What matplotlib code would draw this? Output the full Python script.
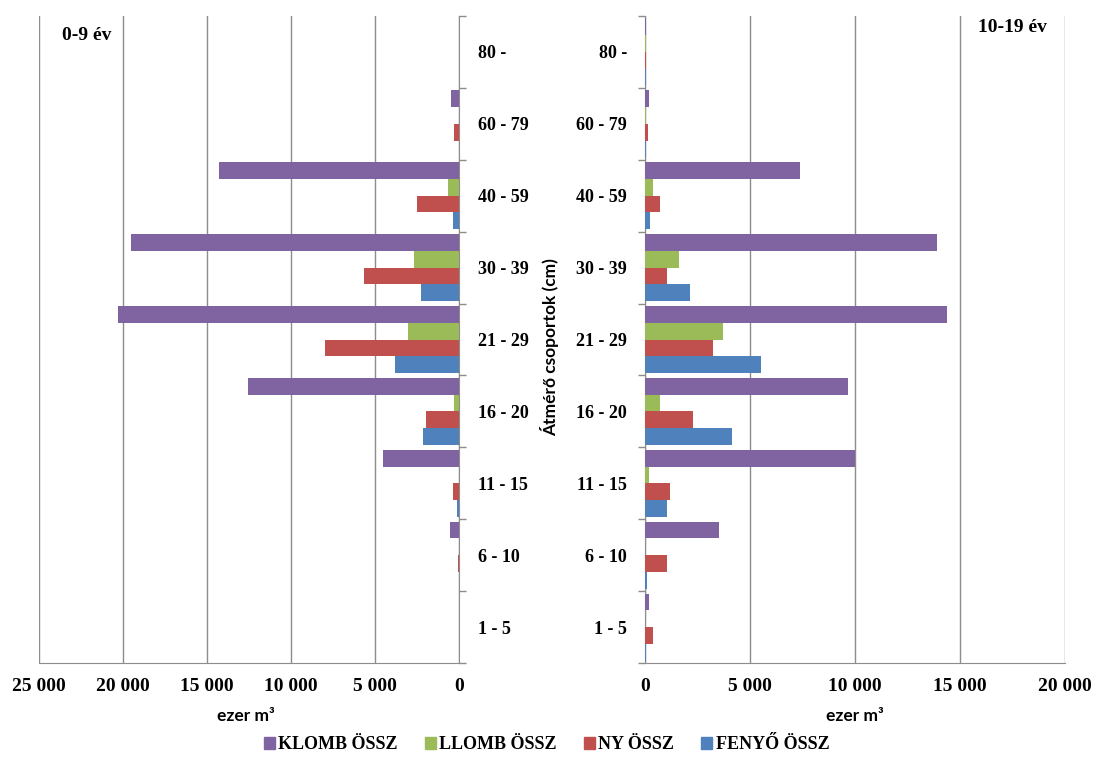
import matplotlib
matplotlib.use("Agg")
import matplotlib.pyplot as plt
from matplotlib.patches import Patch
from matplotlib.ticker import FuncFormatter, FixedLocator
import numpy as np

# -- adatok (ezer m3) --
categories = ["1 - 5", "6 - 10", "11 - 15", "16 - 20", "21 - 29",
              "30 - 39", "40 - 59", "60 - 79", "80 -"]
series = ["KLOMB ÖSSZ", "LLOMB ÖSSZ", "NY ÖSSZ", "FENYŐ ÖSSZ"]
colors = ["#8064A2", "#9BBB59", "#C0504D", "#4F81BD"]

# 0-9 év
klomb_0_9 = [0, 520, 4500, 12560, 20320, 19520, 14290, 460, 0]
llomb_0_9 = [0, 0, 0, 300, 3050, 2700, 670, 0, 0]
ny_0_9 = [0, 60, 375, 1960, 7990, 5670, 2480, 320, 0]
fenyo_0_9 = [0, 0, 140, 2120, 3790, 2260, 375, 0, 0]

# 10-19 év
klomb_10_19 = [180, 3540, 10000, 9680, 14370, 13900, 7360, 180, 50]
llomb_10_19 = [0, 0, 200, 700, 3700, 1610, 360, 30, 30]
ny_10_19 = [360, 1050, 1210, 2270, 3260, 1050, 700, 120, 40]
fenyo_10_19 = [60, 80, 1050, 4120, 5510, 2150, 240, 40, 30]

left_data = [klomb_0_9, llomb_0_9, ny_0_9, fenyo_0_9]
right_data = [klomb_10_19, llomb_10_19, ny_10_19, fenyo_10_19]

SERIF = "Liberation Serif"
SANS = "Lato"
GRID = "#8C8C8C"

plt.rcParams["font.family"] = [SERIF, "DejaVu Serif"]
plt.rcParams["font.weight"] = "bold"


def hu_fmt(v, pos):
    return "{:,.0f}".format(v).replace(",", " ")


fig = plt.figure(figsize=(10.96, 7.6), dpi=100)
axL = fig.add_axes([39 / 1096, 1 - 663 / 760, 420 / 1096, 647 / 760])
axR = fig.add_axes([645 / 1096, 1 - 663 / 760, 420 / 1096, 647 / 760])

y = np.arange(len(categories))
h = 0.233

for ax, data, xmax in [(axL, left_data, 25000), (axR, right_data, 20000)]:
    for k, vals in enumerate(data):
        ax.barh(y + (1.5 - k) * h, vals, height=h, color=colors[k], zorder=3)
    ax.set_xlim(0, xmax)
    ax.set_ylim(-0.5, len(categories) - 0.5)
    ax.set_xticks(np.arange(0, xmax + 1, 5000))
    ax.xaxis.set_major_formatter(FuncFormatter(hu_fmt))
    ax.grid(axis="x", color=GRID, lw=1, zorder=0)
    ax.set_yticks(y)
    ax.set_yticklabels(categories)
    ax.yaxis.set_minor_locator(FixedLocator(np.arange(-0.5, len(categories), 1)))
    ax.tick_params(axis="x", length=0, pad=11, labelsize=14)
    ax.tick_params(axis="y", which="major", length=0, labelsize=13)
    ax.tick_params(axis="y", which="minor", length=5, color=GRID, width=1)
    ax.spines["top"].set_visible(False)
    for s in ["left", "right", "bottom"]:
        ax.spines[s].set_color(GRID)

# bal oldal: fordított tengely, címkék jobbra
axL.invert_xaxis()
axL.yaxis.tick_right()
axL.yaxis.set_tick_params(which="both", right=True, left=False)
axL.tick_params(axis="y", which="major", pad=14)
axL.spines["left"].set_visible(False)

# jobb oldal
axR.spines["right"].set_visible(False)
axR.tick_params(axis="y", which="major", pad=13)

fig.text(62 / 1096, 1 - 36 / 760, "0-9 év", fontsize=14, ha="left", va="center")
fig.text(1047 / 1096, 1 - 28 / 760, "10-19 év", fontsize=14, ha="right", va="center")

fig.text(246 / 1096, 1 - 716 / 760, "ezer m³", family=SANS, weight="bold",
         fontsize=12.5, ha="center", va="center")
fig.text(855 / 1096, 1 - 716 / 760, "ezer m³", family=SANS, weight="bold",
         fontsize=12.5, ha="center", va="center")
fig.text(550 / 1096, 1 - 347 / 760, "Átmérő csoportok (cm)", family=SANS,
         weight="bold", fontsize=12.5, rotation=90, ha="center", va="center")

handles = [Patch(color=c, label=s) for c, s in zip(colors, series)]
fig.legend(handles=handles, loc="center", bbox_to_anchor=(0.4987, 0.02),
           ncol=4, frameon=False, handlelength=0.6, handleheight=0.6,
           handletextpad=0.2, columnspacing=1.5,
           prop={"family": SERIF, "weight": "bold", "size": 13})

fig.savefig("out.png", dpi=100)
